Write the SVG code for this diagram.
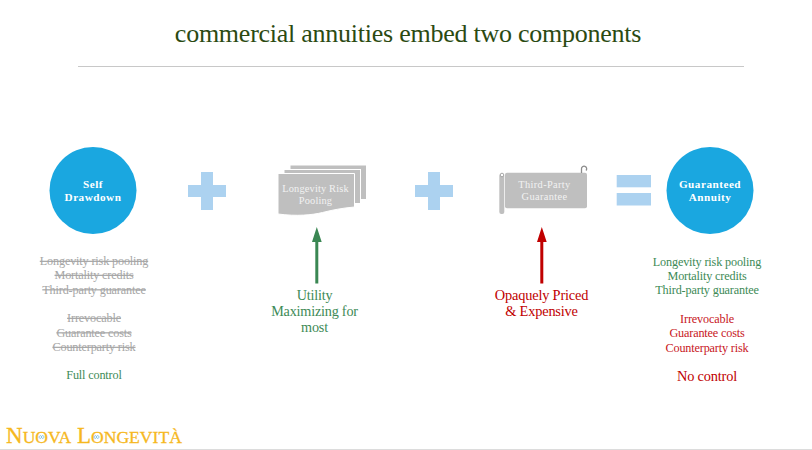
<svg xmlns="http://www.w3.org/2000/svg" width="812" height="450" viewBox="0 0 812 450">
<style>
text{font-family:"Liberation Serif","Times New Roman",serif;text-anchor:middle}
.title{font-size:26px;letter-spacing:-.25px;fill:#2b4a12}
.n{font-size:11.200px;letter-spacing:.5px;font-weight:bold;fill:#fff}
.w{font-size:10.400px;letter-spacing:.15px;fill:#f2f2f2}
.w2{font-size:10.400px;letter-spacing:.35px;fill:#f2f2f2}
.s{font-size:12.2px;letter-spacing:-.15px;fill:#a6a6a6;text-decoration:line-through}
.g{font-size:12.2px;letter-spacing:-.15px;fill:#3d8a56}
.r{font-size:12.2px;letter-spacing:-.15px;fill:#c8161d}
.gb{font-size:14.2px;letter-spacing:-.2px;fill:#3d8a56}
.rb{font-size:14.4px;letter-spacing:-.2px;fill:#c00000}
.c{fill:#1aa7e0}
.p{fill:#acd2f0}
.d{fill:#bfbfbf;stroke:#fff;stroke-width:1}
.logo{font-size:23px;fill:#f6b81e;stroke:#f6b81e;stroke-width:.3;text-anchor:start}
.sc{font-size:17.6px}
</style>
<rect width="812" height="450" fill="#fff"/>
<text class="title" x="408" y="42">commercial annuities embed two components</text>
<line x1="78" y1="66.500" x2="744" y2="66.500" stroke="#c8c8c8"/>
<g id="self-drawdown">
<circle class="c" cx="93" cy="190.500" r="43.500"/>
<text class="n"><tspan x="93" y="187.500">Self</tspan><tspan x="93" y="200.500">Drawdown</tspan></text>
<text class="s" x="94" y="265">Longevity risk pooling</text>
<text class="s" x="94" y="279">Mortality credits</text>
<text class="s" x="94" y="293.500">Third-party guarantee</text>
<text class="s" x="94" y="322">Irrevocable</text>
<text class="s" x="94" y="336.500">Guarantee costs</text>
<text class="s" x="94" y="351">Counterparty risk</text>
<text class="g" x="94" y="379">Full control</text>
</g>
<g id="plus-1"><path class="p" d="M201 172h12v13h13v12h-13v13h-12v-13h-13v-12h13z"/></g>
<g id="longevity-pooling">
<rect class="d" x="290" y="165" width="76.500" height="34.500"/>
<rect class="d" x="284" y="169.500" width="76.500" height="34"/>
<path class="d" d="M278 173.500h76.500v33.500c-12 1-22 3-32 5.500s-26 4-44.500 1.500z"/>
<text class="w"><tspan x="315.500" y="191.500">Longevity Risk</tspan><tspan x="315.500" y="203.500">Pooling</tspan></text>
</g>
<g id="plus-2"><path class="p" d="M428 172h12v13h13v12h-13v13h-12v-13h-13v-12h13z"/></g>
<g id="third-party">
<rect fill="#bfbfbf" x="505" y="172.800" width="82" height="35.500" rx="2"/>
<rect fill="#bfbfbf" x="499.300" y="174" width="5" height="40" rx="2"/>
<circle cx="502" cy="175" r="1.800" fill="#fff" stroke="#a6a6a6"/>
<path d="M581.500 173v-4a2.600 2.600 0 1 1 4.500 1.500" fill="none" stroke="#8c8c8c" stroke-width="1.300"/>
<text class="w2"><tspan x="544.500" y="187.500">Third-Party</tspan><tspan x="544.500" y="199.500">Guarantee</tspan></text>
</g>
<g id="equals"><rect class="p" x="616.700" y="175" width="34.300" height="12.300"/><rect class="p" x="616.700" y="193" width="34.300" height="12.500"/></g>
<g id="guaranteed-annuity">
<circle class="c" cx="710" cy="190.500" r="43.500"/>
<text class="n"><tspan x="710" y="187.500">Guaranteed</tspan><tspan x="710" y="200.500">Annuity</tspan></text>
<text class="g" x="707" y="266">Longevity risk pooling</text>
<text class="g" x="707" y="280">Mortality credits</text>
<text class="g" x="707" y="294">Third-party guarantee</text>
<text class="r" x="707" y="323">Irrevocable</text>
<text class="r" x="707" y="337">Guarantee costs</text>
<text class="r" x="707" y="352">Counterparty risk</text>
<text class="rb" x="707" y="381">No control</text>
</g>
<g id="connectors">
<path d="M315.300 283.500v-41.500h-3.300l4.800-15 4.900 15h-3.400v41.500z" fill="#3a8753"/>
<path d="M540.300 283.500v-41.500h-3.300l4.800-15 4.900 15h-3.400v41.500z" fill="#c00000"/>
</g>
<g id="utility-label">
<text class="gb"><tspan x="314.500" y="300">Utility</tspan><tspan x="314.500" y="316">Maximizing for</tspan><tspan x="314.500" y="332">most</tspan></text>
</g>
<g id="opaque-label">
<text class="rb"><tspan x="541.500" y="300">Opaquely Priced</tspan><tspan x="541.500" y="316">&amp; Expensive</tspan></text>
</g>
<g id="logo">
<text class="logo" x="6" y="443">N<tspan class="sc">UOVA</tspan> L<tspan class="sc">ONGEVITÀ</tspan></text>
<path d="M39 437c1-2 2-2 2.500 0s2 2 2.500 0c-.5-2-2-2-2.500 0s-2 2-2.500 0zM94 437c1-2 2-2 2.500 0s2 2 2.500 0c-.5-2-2-2-2.500 0s-2 2-2.500 0z" fill="none" stroke="#6db8e0" stroke-width=".8"/>
</g>
<line x1="0" y1="449.500" x2="812" y2="449.500" stroke="#dcdcdc"/>
</svg>
